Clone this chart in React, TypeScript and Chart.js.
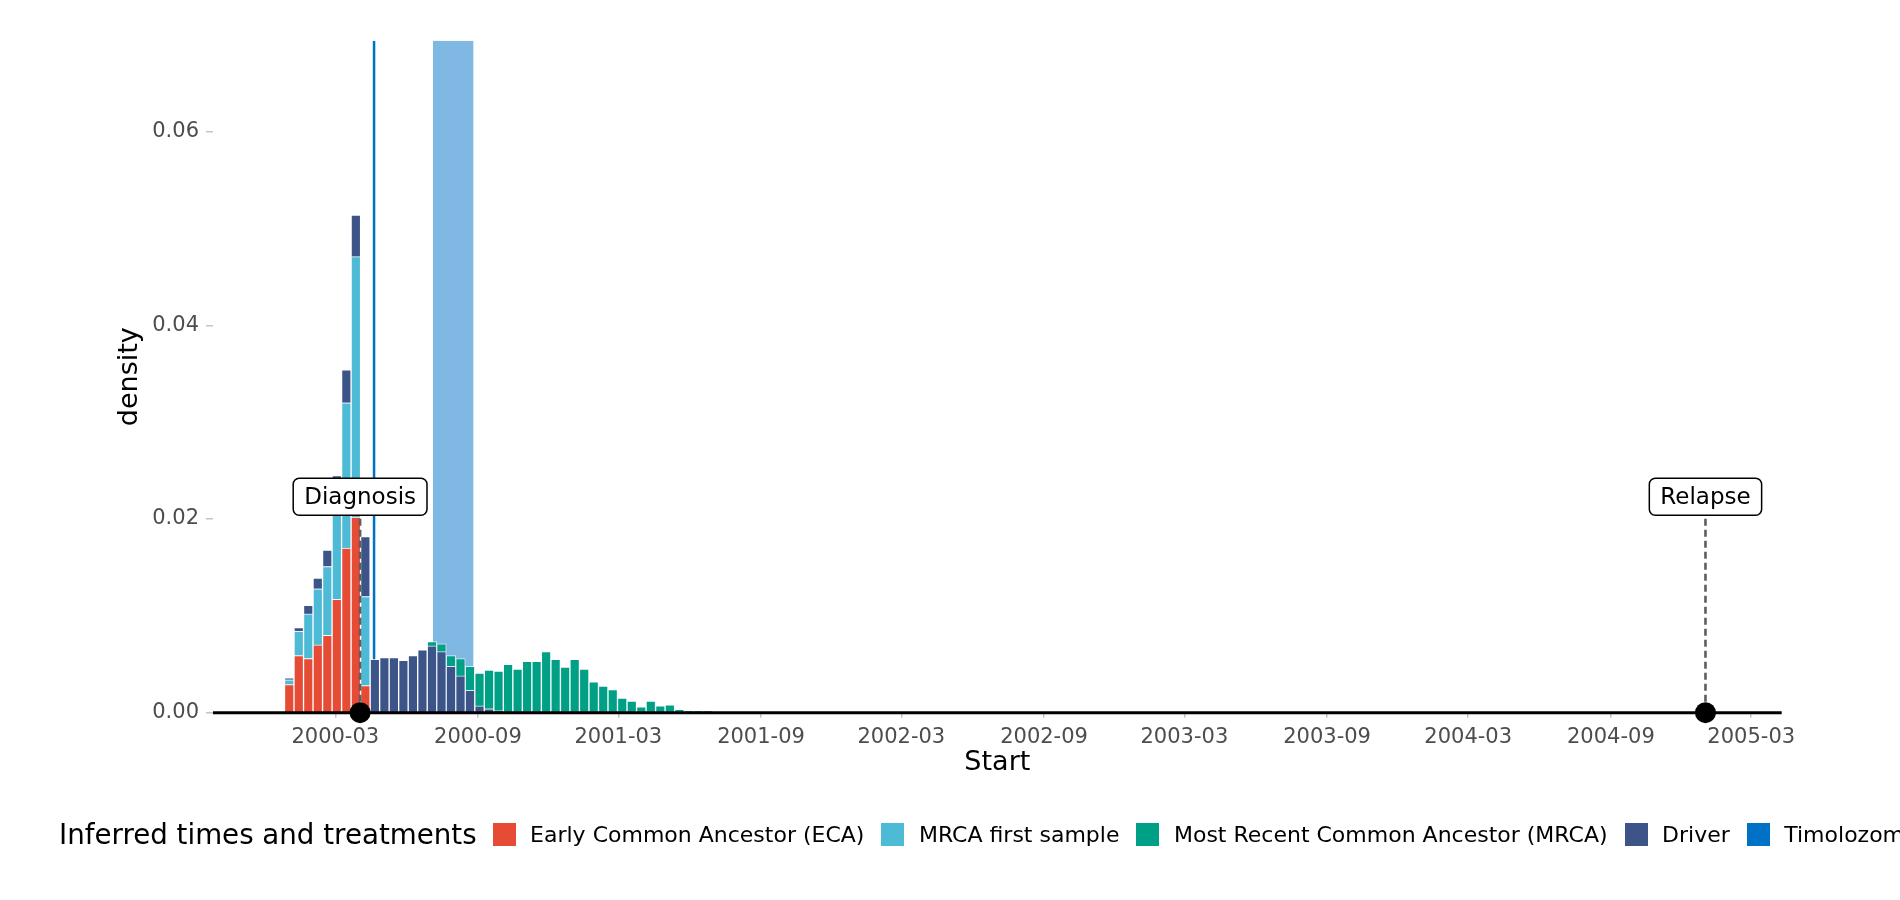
import { useEffect, useRef } from "react"
import Chart from "chart.js/auto"

// histogram bins (stacked densities), one value per bin
const BIN_START = "1999-12-27"
const BIN_DAYS = 12.27

const eca = [
  0.0029, 0.0059, 0.0056, 0.007, 0.008, 0.0117, 0.017, 0.0202, 0.0028, 0, 0, 0, 0, 0, 0, 0,
  0, 0, 0, 0, 0, 0, 0, 0, 0, 0, 0, 0, 0, 0, 0, 0, 0, 0, 0, 0, 0, 0, 0, 0, 0, 0, 0, 0, 0,
]
const mrcaFirst = [
  0.0005, 0.0025, 0.0046, 0.0058, 0.0071, 0.0103, 0.015, 0.0269, 0.0092, 0, 0, 0, 0, 0, 0, 0,
  0, 0, 0, 0, 0, 0, 0, 0, 0, 0, 0, 0, 0, 0, 0, 0, 0, 0, 0, 0, 0, 0, 0, 0, 0, 0, 0, 0, 0,
]
const driver = [
  0.0002, 0.0004, 0.0009, 0.0011, 0.0017, 0.0025, 0.0034, 0.0043, 0.0062, 0.0055, 0.0057,
  0.0057, 0.0054, 0.0059, 0.0065, 0.0069, 0.0063, 0.0048, 0.0038, 0.0023, 0.0007, 0.0004,
  0.0002, 0, 0, 0, 0, 0, 0, 0, 0, 0, 0, 0, 0, 0, 0, 0, 0, 0, 0, 0, 0, 0, 0,
]
const mrca = [
  0, 0, 0, 0, 0, 0, 0, 0, 0, 0, 0, 0, 0, 0, 0, 0.00045, 0.0008, 0.0011, 0.0018, 0.0025,
  0.0034, 0.004, 0.0041, 0.005, 0.0045, 0.0053, 0.0053, 0.0063, 0.0055, 0.0047, 0.0055,
  0.0045, 0.0032, 0.00275, 0.0024, 0.0015, 0.0012, 0.0006, 0.0012, 0.0007, 0.0008, 0.00035,
  0.00015, 0.00015, 0.00015,
]

const tickMonths = [
  "2000-03", "2000-09", "2001-03", "2001-09", "2002-03", "2002-09",
  "2003-03", "2003-09", "2004-03", "2004-09", "2005-03",
]
const yTicks = [0, 0.02, 0.04, 0.06]

const eventNames = ["Diagnosis", "Relapse"]
const eventDates = ["2000-04-02", "2005-01-01"]
const eventLabelY = 0.0223

const treatmentName = "Timolozomide"
const treatmentStarts = ["2000-04-20", "2000-07-05"]
const treatmentEnds = ["2000-04-20", "2000-08-26"]

const FONT = "'DejaVu Sans', sans-serif"
const COLORS = {
  eca: "#E64B35",
  mrcaFirst: "#4DBBD5",
  mrca: "#00A087",
  driver: "#3C5488",
  treatment: "#0072C6",
}

const dayNum = (s: string) => {
  const [y, m, d] = s.split("-").map(Number)
  return Date.UTC(y, m - 1, d || 1) / 86400000
}
const binCenter = (i: number) => dayNum(BIN_START) - 0.5 + BIN_DAYS * (i + 0.5)

const X_MIN = dayNum("1999-09-25") + 0.3
const X_MAX = dayNum("2005-04-09") + 0.3

const legendItems = [
  { label: "Early Common Ancestor (ECA)", color: COLORS.eca },
  { label: "MRCA first sample", color: COLORS.mrcaFirst },
  { label: "Most Recent Common Ancestor (MRCA)", color: COLORS.mrca },
  { label: "Driver", color: COLORS.driver },
  { label: treatmentName, color: COLORS.treatment },
]

const overlay = {
  id: "overlay",
  beforeDatasetsDraw(chart: any) {
    const { ctx, chartArea, scales } = chart
    const x = scales.x
    ctx.save()
    ctx.beginPath()
    ctx.rect(chartArea.left, chartArea.top, chartArea.right - chartArea.left, chartArea.bottom - chartArea.top)
    ctx.clip()
    treatmentStarts.forEach((s, i) => {
      const x0 = x.getPixelForValue(dayNum(s))
      const x1 = x.getPixelForValue(dayNum(treatmentEnds[i]))
      if (x1 - x0 < 1) {
        ctx.strokeStyle = COLORS.treatment
        ctx.lineWidth = 2.5
        ctx.beginPath()
        ctx.moveTo(x0, chartArea.top)
        ctx.lineTo(x0, chartArea.bottom)
        ctx.stroke()
      } else {
        ctx.globalAlpha = 0.5
        ctx.fillStyle = COLORS.treatment
        ctx.fillRect(x0, chartArea.top, x1 - x0, chartArea.bottom - chartArea.top)
        ctx.globalAlpha = 1
      }
    })
    ctx.restore()
  },
  afterDatasetsDraw(chart: any) {
    const { ctx, chartArea, scales } = chart
    const x = scales.x
    const y = scales.y
    const y0 = y.getPixelForValue(0)
    const yl = y.getPixelForValue(eventLabelY)
    ctx.save()
    // dashed event lines
    eventDates.forEach((d) => {
      const px = x.getPixelForValue(dayNum(d))
      ctx.strokeStyle = "#5E5E5E"
      ctx.lineWidth = 2.6
      ctx.setLineDash([7, 4])
      ctx.beginPath()
      ctx.moveTo(px, yl)
      ctx.lineTo(px, y0)
      ctx.stroke()
    })
    ctx.setLineDash([])
    // labels
    ctx.font = `23px ${FONT}`
    ctx.textAlign = "center"
    ctx.textBaseline = "middle"
    eventDates.forEach((d, i) => {
      const px = x.getPixelForValue(dayNum(d))
      const w = ctx.measureText(eventNames[i]).width + 22
      const h = 37
      ctx.fillStyle = "#ffffff"
      ctx.strokeStyle = "#000000"
      ctx.lineWidth = 1.5
      ctx.beginPath()
      ctx.roundRect(px - w / 2, yl - h / 2, w, h, 6)
      ctx.fill()
      ctx.stroke()
      ctx.fillStyle = "#000000"
      ctx.fillText(eventNames[i], px, yl + 1)
    })
    // zero line
    ctx.strokeStyle = "#000000"
    ctx.lineWidth = 3
    ctx.beginPath()
    ctx.moveTo(chartArea.left, y0)
    ctx.lineTo(chartArea.right, y0)
    ctx.stroke()
    // event points
    eventDates.forEach((d) => {
      const px = x.getPixelForValue(dayNum(d))
      ctx.fillStyle = "#000000"
      ctx.beginPath()
      ctx.arc(px, y0, 10.5, 0, Math.PI * 2)
      ctx.fill()
    })
    ctx.restore()
  },
}

export default function App() {
  const canvasRef = useRef<HTMLCanvasElement>(null)
  const chartRef = useRef<Chart | null>(null)

  useEffect(() => {
    if (!canvasRef.current) return
    const series = [
      { label: "Early Common Ancestor (ECA)", values: eca, color: COLORS.eca },
      { label: "MRCA first sample", values: mrcaFirst, color: COLORS.mrcaFirst },
      { label: "Driver", values: driver, color: COLORS.driver },
      { label: "Most Recent Common Ancestor (MRCA)", values: mrca, color: COLORS.mrca },
    ]

    chartRef.current = new Chart(canvasRef.current, {
      type: "bar",
      data: {
        datasets: series.map((s) => ({
          label: s.label,
          data: s.values.map((v, i) => ({ x: binCenter(i), y: v })),
          backgroundColor: s.color,
          borderColor: "rgba(255,255,255,0.7)",
          borderWidth: 1,
          barPercentage: 1,
          categoryPercentage: 1,
        })),
      },
      options: {
        animation: false,
        responsive: true,
        maintainAspectRatio: false,
        layout: { padding: { top: 40.7, right: 118.3, bottom: 100.3, left: 0 } },
        plugins: { legend: { display: false }, tooltip: { enabled: false } },
        scales: {
          x: {
            type: "linear",
            stacked: true,
            offset: false,
            min: X_MIN,
            max: X_MAX,
            afterBuildTicks: (s: any) => {
              s.ticks = tickMonths.map((m) => ({ value: dayNum(m + "-01") }))
            },
            afterFit: (s: any) => {
              s.height = 87
            },
            ticks: {
              autoSkip: false,
              maxRotation: 0,
              padding: 7,
              color: "#4D4D4D",
              font: { family: FONT, size: 21 },
              callback: (_v: any, i: number) => tickMonths[i],
            },
            grid: { drawOnChartArea: false, drawTicks: true, tickLength: 5, color: "#C4C4C4", lineWidth: 1.5, offset: false },
            border: { display: false },
            title: {
              display: true,
              text: "Start",
              color: "#000000",
              font: { family: FONT, size: 27 },
              padding: { top: 0, bottom: 20.5 },
            },
          },
          y: {
            stacked: true,
            min: 0,
            max: 0.0694,
            afterBuildTicks: (s: any) => {
              s.ticks = yTicks.map((v) => ({ value: v }))
            },
            afterFit: (s: any) => {
              s.width = 213
            },
            ticks: {
              padding: 7,
              color: "#4D4D4D",
              font: { family: FONT, size: 21 },
              callback: (v: any) => Number(v).toFixed(2),
            },
            grid: { drawOnChartArea: false, drawTicks: true, tickLength: 7, color: "#C4C4C4", lineWidth: 1.5 },
            border: { display: false },
            title: {
              display: true,
              text: "density",
              color: "#000000",
              font: { family: FONT, size: 27 },
              padding: { top: 114, bottom: 0 },
            },
          },
        },
      },
      plugins: [overlay],
    })

    return () => {
      if (chartRef.current) {
        chartRef.current.destroy()
        chartRef.current = null
      }
    }
  }, [])

  return (
    <div
      style={{
        position: "fixed",
        top: 0,
        left: 0,
        width: 1900,
        height: 900,
        overflow: "hidden",
        background: "#ffffff",
        fontFamily: FONT,
      }}
    >
      <div style={{ position: "absolute", top: 0, left: 0, width: 1900, height: 900 }}>
        <canvas ref={canvasRef}></canvas>
      </div>
      <div
        style={{
          position: "absolute",
          top: 814,
          left: 59,
          height: 40,
          display: "flex",
          alignItems: "center",
          whiteSpace: "nowrap",
        }}
      >
        <span style={{ fontSize: 27.7, color: "#000", marginRight: 16 }}>Inferred times and treatments</span>
        {legendItems.map((it) => (
          <span key={it.label} style={{ display: "flex", alignItems: "center", marginRight: 17 }}>
            <span style={{ display: "inline-block", width: 23, height: 23, background: it.color, marginRight: 14.5 }}></span>
            <span style={{ fontSize: 22, color: "#000" }}>{it.label}</span>
          </span>
        ))}
      </div>
    </div>
  )
}
